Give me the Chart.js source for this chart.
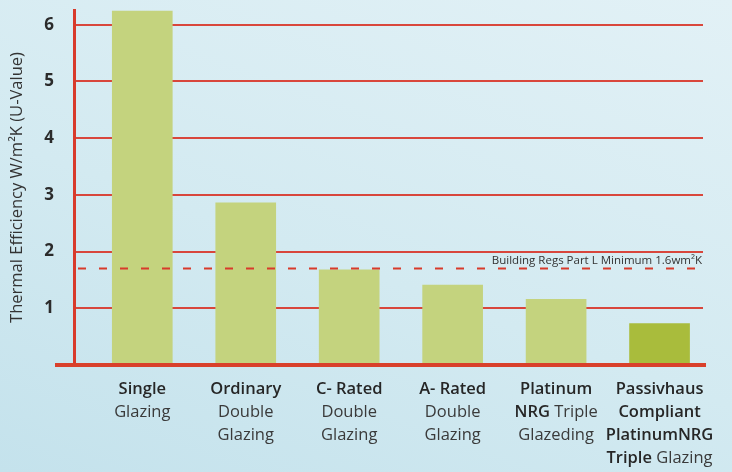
<!DOCTYPE html>
<html lang="en">
<head>
  <meta charset="UTF-8">
  <title>Thermal Efficiency U-Value</title>
  <script src="https://cdn.jsdelivr.net/npm/chart.js@4.4.1/dist/chart.umd.min.js"></script>
  <style>
    * {
      margin: 0;
      padding: 0;
      box-sizing: border-box;
    }
    body {
      width: 732px;
      height: 472px;
      overflow: hidden;
      background: linear-gradient(20deg, #c4e2ec 0%, #d3eaf1 45%, #e2f1f6 100%);
    }
    .wrap {
      position: relative;
      width: 732px;
      height: 472px;
    }
  </style>
</head>
<body>
  <div class="wrap">
    <canvas id="uChart"></canvas>
  </div>

  <script>
    // glazing types, as printed under the bars (**text** = bold)
    const categories = [
      'Single Glazing',
      'Ordinary Double Glazing',
      'C- Rated Double Glazing',
      'A- Rated Double Glazing',
      'Platinum NRG Triple Glazeding',
      'Passivhaus Compliant PlatinumNRG Triple Glazing'
    ];
    const labelLines = [
      ['**Single**', 'Glazing'],
      ['**Ordinary**', 'Double', 'Glazing'],
      ['**C- Rated**', 'Double', 'Glazing'],
      ['**A- Rated**', 'Double', 'Glazing'],
      ['**Platinum**', '**NRG** Triple', 'Glazeding'],
      ['**Passivhaus**', '**Compliant**', '**PlatinumNRG**', '**Triple** Glazing']
    ];
    const uValues = [6.24, 2.86, 1.68, 1.41, 1.16, 0.73];
    const yTicks = [1, 2, 3, 4, 5, 6];
    const regsMinimum = 1.7;
    const regsLabel = 'Building Regs Part L Minimum 1.6wm\u00B2K';

    const RED = '#d83a2b';
    const FONT = '"Open Sans", "Noto Sans", sans-serif';

    function splitBold(line) {
      return line.split(/(\*\*[^*]+\*\*)/).filter(s => s).map(s => {
        if (s.startsWith('**')) return { text: s.slice(2, -2), bold: true };
        return { text: s, bold: false };
      });
    }

    // bottom axis line, reference line and the mixed-weight category labels
    const decorations = {
      id: 'decorations',
      afterDraw(chart) {
        const ctx = chart.ctx;
        const x = chart.scales.x;
        const y = chart.scales.y;
        const area = chart.chartArea;

        ctx.save();
        // dashed regs line
        const ry = y.getPixelForValue(regsMinimum);
        ctx.strokeStyle = RED;
        ctx.lineWidth = 2;
        ctx.setLineDash([8, 13]);
        ctx.beginPath();
        ctx.moveTo(area.left + 4, ry);
        ctx.lineTo(area.right, ry);
        ctx.stroke();
        ctx.setLineDash([]);

        ctx.font = '11.5px ' + FONT;
        ctx.fillStyle = '#333';
        ctx.textAlign = 'right';
        ctx.textBaseline = 'middle';
        ctx.fillText(regsLabel, area.right - 1, ry - 8);

        // thick base line, sticking out on both sides
        const by = y.getPixelForValue(0);
        ctx.strokeStyle = '#d9402b';
        ctx.lineWidth = 4;
        ctx.beginPath();
        ctx.moveTo(area.left - 19, by);
        ctx.lineTo(area.right + 3, by);
        ctx.stroke();

        // category labels
        ctx.textAlign = 'left';
        labelLines.forEach((lines, i) => {
          const cx = x.getPixelForValue(i);
          lines.forEach((line, j) => {
            const segs = splitBold(line);
            let w = 0;
            segs.forEach(s => {
              ctx.font = (s.bold ? '600 ' : '400 ') + '16.5px ' + FONT;
              s.w = ctx.measureText(s.text).width;
              w += s.w;
            });
            let sx = cx - w / 2;
            const sy = by + 24 + j * 23;
            segs.forEach(s => {
              ctx.font = (s.bold ? '600 ' : '400 ') + '16.5px ' + FONT;
              ctx.fillStyle = s.bold ? '#262626' : '#3a3a3a';
              ctx.fillText(s.text, sx, sy);
              sx += s.w;
            });
          });
        });
        ctx.restore();
      }
    };

    new Chart(document.getElementById('uChart'), {
      type: 'bar',
      data: {
        labels: categories,
        datasets: [{
          label: 'U-Value',
          data: uValues.map((v, i) => ({ x: i, y: v })),
          backgroundColor: uValues.map((v, i) => i === uValues.length - 1 ? '#a9bc3c' : '#c4d37e'),
          barThickness: 60,
          borderWidth: 0
        }]
      },
      options: {
        responsive: true,
        maintainAspectRatio: false,
        animation: false,
        layout: { padding: { top: 10, right: 29, left: 0, bottom: 0 } },
        plugins: {
          legend: { display: false },
          tooltip: { enabled: false }
        },
        scales: {
          x: {
            type: 'linear',
            offset: false,
            min: -0.66,
            max: 5.42,
            ticks: { display: false },
            grid: { display: false },
            border: { display: false },
            afterFit(scale) { scale.height = 107; }
          },
          y: {
            min: 0,
            max: 6.26,
            z: 1,
            afterFit(scale) {
              scale.width = 74;
              scale.paddingTop = 0;
              scale.paddingBottom = 0;
            },
            afterBuildTicks(scale) {
              scale.ticks = yTicks.map(v => ({ value: v }));
            },
            ticks: {
              padding: 20,
              color: '#2b2b2b',
              font: { family: FONT, size: 17, weight: 'bold' }
            },
            grid: {
              color: 'rgba(216, 52, 40, 0.9)',
              lineWidth: 2,
              drawTicks: false
            },
            border: { color: RED, width: 3 },
            title: {
              display: true,
              text: 'Thermal Efficiency W/m\u00B2K (U-Value)',
              color: '#333',
              font: { family: FONT, size: 16.5 },
              padding: { top: 7, bottom: 0 }
            }
          }
        }
      },
      plugins: [decorations]
    });
  </script>
</body>
</html>
